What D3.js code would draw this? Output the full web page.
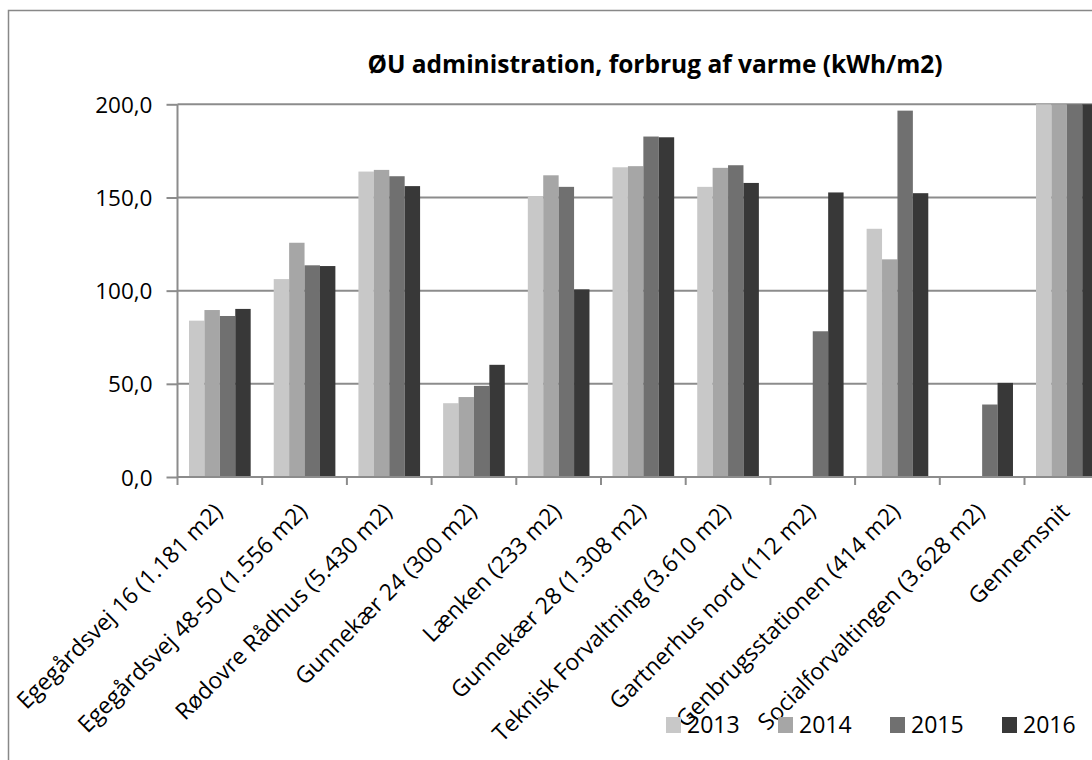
<!DOCTYPE html>
<html>
<head>
<meta charset="utf-8">
<script src="https://cdn.jsdelivr.net/npm/d3@7"></script>
<style>
  body { margin: 0; background: #fff; }
  svg { display: block; font-family: "Open Sans", Lato, sans-serif; }
</style>
</head>
<body>
<svg id="chart" width="1092" height="760"></svg>
<script>
// Data
var categories = [
    "Egegårdsvej 16 (1.181 m2)",
    "Egegårdsvej 48-50 (1.556 m2)",
    "Rødovre Rådhus (5.430 m2)",
    "Gunnekær 24 (300 m2)",
    "Lænken (233 m2)",
    "Gunnekær 28 (1.308 m2)",
    "Teknisk Forvaltning (3.610 m2)",
    "Gartnerhus nord (112 m2)",
    "Genbrugsstationen (414 m2)",
    "Socialforvaltingen (3.628 m2)",
    "Gennemsnit"
];
var years = ["2013", "2014", "2015", "2016"];
var values2013 = [83.9, 106.2, 163.9, 39.6, 150.7, 166.2, 155.7, 0, 133.2, 0, 215];
var values2014 = [89.6, 125.7, 164.8, 42.9, 161.9, 166.8, 165.9, 0, 116.8, 0, 220];
var values2015 = [86.4, 113.6, 161.4, 48.9, 155.7, 182.7, 167.3, 78.2, 196.6, 38.9, 225];
var values2016 = [90.2, 113.2, 156.1, 60.2, 100.7, 182.3, 157.8, 152.7, 152.3, 50.5, 218];
var yTicks = [0, 50, 100, 150, 200];
var colors = ["#c8c8c8", "#a6a6a6", "#707070", "#383838"];

var series = [values2013, values2014, values2015, values2016];

// Layout
var width = 1092,
    height = 760,
    x0 = 177.5,
    band = 84.7,
    yZero = 477,
    yTop = 104.3;

var svg = d3.select("#chart");

// Outer chart border (runs off the right and bottom edge)
svg.append("rect")
    .attr("x", 8.5)
    .attr("y", 10.5)
    .attr("width", 1200)
    .attr("height", 900)
    .attr("fill", "#fff")
    .attr("stroke", "#888")
    .attr("stroke-width", 1.5);

// Scales
var x = d3.scaleBand()
    .domain(categories)
    .range([x0, x0 + band * categories.length])
    .padding(0);

var xInner = d3.scaleBand()
    .domain(years)
    .range([band * 0.136, band * (1 - 0.136)])
    .padding(0);

var y = d3.scaleLinear()
    .domain([0, 200])
    .range([yZero, yTop])
    .clamp(true);

// Gridlines
svg.append("g")
    .attr("class", "grid")
    .selectAll("line")
    .data(yTicks.filter(function(d) { return d > 0; }))
    .enter()
    .append("line")
    .attr("x1", x0)
    .attr("x2", width)
    .attr("y1", function(d) { return y(d); })
    .attr("y2", function(d) { return y(d); })
    .attr("stroke", "#8c8c8c")
    .attr("stroke-width", 2);

// Bars
var group = svg.append("g")
    .selectAll(".group")
    .data(categories)
    .enter()
    .append("g")
    .attr("class", "group")
    .attr("transform", function(d) { return "translate(" + x(d) + ",0)"; });

group.selectAll("rect")
    .data(function(d, i) {
        return years.map(function(yr, j) { return { year: yr, value: series[j][i], j: j }; });
    })
    .enter()
    .filter(function(d) { return d.value > 0; })
    .append("rect")
    .attr("x", function(d) { return xInner(d.year); })
    .attr("width", xInner.bandwidth())
    .attr("y", function(d) { return y(d.value); })
    .attr("height", function(d) { return yZero - y(d.value); })
    .attr("fill", function(d) { return colors[d.j]; });

// Y axis
var yAxis = d3.axisLeft(y)
    .tickValues(yTicks)
    .tickSize(11)
    .tickPadding(14)
    .tickFormat(function(d) { return d3.format(".1f")(d).replace(".", ","); });

var gy = svg.append("g")
    .attr("transform", "translate(" + x0 + ",0)")
    .call(yAxis);

gy.select(".domain")
    .attr("stroke", "#8c8c8c")
    .attr("stroke-width", 2)
    .attr("d", "M0," + yTop + "V" + yZero);
gy.selectAll(".tick line").attr("stroke", "#8c8c8c").attr("stroke-width", 2);
gy.selectAll(".tick text")
    .attr("fill", "#000")
    .attr("font-family", "Open Sans")
    .attr("font-size", 22.5)
    .attr("dy", "0.36em");

// X axis line and ticks at category boundaries
svg.append("line")
    .attr("x1", x0)
    .attr("x2", width)
    .attr("y1", yZero)
    .attr("y2", yZero)
    .attr("stroke", "#8c8c8c")
    .attr("stroke-width", 2);

svg.append("g")
    .selectAll("line")
    .data(categories)
    .enter()
    .append("line")
    .attr("x1", function(d) { return x(d); })
    .attr("x2", function(d) { return x(d); })
    .attr("y1", yZero)
    .attr("y2", yZero + 8)
    .attr("stroke", "#8c8c8c")
    .attr("stroke-width", 2);

// Rotated category labels
svg.append("g")
    .selectAll("text")
    .data(categories)
    .enter()
    .append("text")
    .attr("transform", function(d) {
        return "translate(" + (x(d) + band / 2 + 4) + "," + (yZero + 36) + ")rotate(-45)";
    })
    .attr("text-anchor", "end")
    .attr("font-size", 23)
    .attr("fill", "#000")
    .text(function(d) { return d; });

// Title
svg.append("text")
    .attr("x", 655)
    .attr("y", 73)
    .attr("text-anchor", "middle")
    .attr("font-size", 24.5)
    .attr("font-weight", "bold")
    .attr("fill", "#000")
    .text("ØU administration, forbrug af varme (kWh/m2)");

// Legend
var legend = svg.append("g")
    .selectAll(".legenditem")
    .data(years)
    .enter()
    .append("g")
    .attr("class", "legenditem")
    .attr("transform", function(d, i) { return "translate(" + (666 + i * 112) + ",717)"; });

legend.append("rect")
    .attr("width", 15)
    .attr("height", 16)
    .attr("fill", function(d, i) { return colors[i]; });

legend.append("text")
    .attr("x", 21)
    .attr("y", 16)
    .attr("font-size", 23)
    .attr("fill", "#000")
    .text(function(d) { return d; });
</script>
</body>
</html>
